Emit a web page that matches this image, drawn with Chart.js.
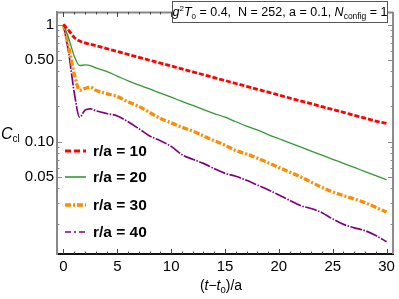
<!DOCTYPE html>
<html><head><meta charset="utf-8">
<script src="https://cdn.jsdelivr.net/npm/chart.js@4/dist/chart.umd.min.js"></script>
<style>html,body{margin:0;padding:0;background:#fff;}canvas{display:block;}</style>
</head><body>
<canvas id="c" width="399" height="299"></canvas>
<script>
const tValues = [0,0.5,1,1.5,2,2.5,3,4,5,6,7,8,9,10,11,12,13,14,15,16,17,18,19,20,21,22,23,24,25,26,27,28,29,30];
const c10 = [1,0.89,0.776,0.724,0.697,0.679,0.661,0.624,0.589,0.556,0.525,0.496,0.469,0.443,0.418,0.395,0.373,0.352,0.333,0.314,0.297,0.280,0.265,0.250,0.236,0.223,0.211,0.199,0.188,0.178,0.168,0.159,0.150,0.143];
const c20 = [1,0.759,0.537,0.447,0.452,0.447,0.427,0.398,0.363,0.331,0.305,0.282,0.260,0.240,0.221,0.204,0.188,0.174,0.162,0.148,0.136,0.126,0.115,0.106,0.0977,0.0902,0.0832,0.0767,0.0708,0.0653,0.0603,0.0556,0.0513,0.0473];
const c30 = [1,0.631,0.380,0.275,0.285,0.292,0.275,0.257,0.243,0.219,0.200,0.178,0.158,0.145,0.133,0.123,0.112,0.102,0.0933,0.0841,0.0785,0.0724,0.0661,0.0603,0.0550,0.0501,0.0452,0.0407,0.0372,0.0347,0.0324,0.0302,0.0275,0.0251];
const c40 = [1,0.562,0.263,0.162,0.186,0.191,0.184,0.174,0.166,0.148,0.129,0.112,0.102,0.0912,0.0776,0.0708,0.0653,0.0589,0.0537,0.0507,0.0468,0.0427,0.0389,0.0351,0.0316,0.0285,0.0269,0.0248,0.0219,0.0197,0.0184,0.0174,0.0158,0.0140];
const seriesLabels = ["r/a = 10","r/a = 20","r/a = 30","r/a = 40"];
const xTicks = [0,5,10,15,20,25,30];
const yTicks = [1,0.5,0.1,0.05];
const yTickLabels = ["1","0.50","0.10","0.05"];
const yMinorTicks = [0.02,0.03,0.04,0.06,0.07,0.08,0.09,0.2,0.3,0.4,0.6,0.7,0.8,0.9];

const styles = [
  {color:'#ff0000', width:2.8, dash:[5,2]},
  {color:'#339933', width:1.3, dash:[]},
  {color:'#ff8c00', width:3.3, dash:[6,2,2,2]},
  {color:'#800080', width:1.7, dash:[12,1.5,1.5,1.5]}
];
const legendDash = [[6,3],[],[6,2,2,2],[6,3,2,3]];
const seriesData = [c10,c20,c30,c40];

const datasets = seriesData.map((arr,i)=>({
  label: seriesLabels[i],
  data: arr.map((v,j)=>({x:tValues[j], y:v})),
  borderColor: styles[i].color,
  borderWidth: styles[i].width,
  borderDash: styles[i].dash,
  pointRadius: 0,
  fill: false,
  cubicInterpolationMode: 'monotone'
}));

function richText(ctx, segs, x, y, align){
  let total = 0;
  segs.forEach(s=>{ctx.font=s.font; total += ctx.measureText(s.t).width;});
  let cx = align==='center' ? x-total/2 : x;
  segs.forEach(s=>{ctx.font=s.font; ctx.fillText(s.t, cx, y+(s.dy||0)); cx += ctx.measureText(s.t).width;});
}

const overlay = {
  id:'overlay',
  afterDraw(chart){
    const ctx = chart.ctx, a = chart.chartArea;
    const xs = chart.scales.x, ys = chart.scales.y;
    ctx.save();
    ctx.strokeStyle = '#888'; ctx.lineWidth = 2;
    ctx.beginPath(); ctx.moveTo(a.right, a.bottom); ctx.lineTo(a.right, a.top); ctx.stroke();
    ctx.beginPath(); ctx.moveTo(a.left, a.top+0.5); ctx.lineTo(a.right, a.top+0.5); ctx.stroke();
    ctx.strokeStyle = '#444'; ctx.lineWidth = 1;
    for (let t=0; t<=30; t++){
      const px = Math.round(xs.getPixelForValue(t))+0.5;
      const len = (t%5===0)?5:2.5;
      ctx.beginPath(); ctx.moveTo(px, a.bottom); ctx.lineTo(px, a.bottom-len); ctx.stroke();
      ctx.beginPath(); ctx.moveTo(px, a.top); ctx.lineTo(px, a.top+len); ctx.stroke();
    }
    ctx.strokeStyle = '#888';
    yTicks.concat(yMinorTicks).forEach(v=>{
      const py = Math.round(ys.getPixelForValue(v))+0.5;
      const len = yTicks.includes(v)?5:2.5;
      ctx.beginPath(); ctx.moveTo(a.left, py); ctx.lineTo(a.left+len, py); ctx.stroke();
      ctx.beginPath(); ctx.moveTo(a.right, py); ctx.lineTo(a.right-len, py); ctx.stroke();
    });
    ctx.fillStyle = '#fff'; ctx.fillRect(172,1,215,21);
    ctx.strokeStyle = '#555'; ctx.lineWidth = 1;
    ctx.strokeRect(172.5,1.5,215,21);
    ctx.fillStyle = '#000'; ctx.textBaseline = 'alphabetic';
    const f = 'px "Liberation Sans", Arial, sans-serif';
    richText(ctx, [
      {t:'g', font:'italic 12.5'+f},{t:'2', font:'8'+f, dy:-5},
      {t:'T', font:'italic 12.5'+f},{t:'0', font:'8'+f, dy:3},
      {t:' = 0.4,  N = 252, a = 0.1, ', font:'12.5'+f},
      {t:'N', font:'italic 12.5'+f},{t:'config', font:'8.5'+f, dy:3},
      {t:' = 1', font:'12.5'+f}
    ], 280, 16, 'center');
    richText(ctx, [{t:'C', font:'italic 16'+f},{t:'cl', font:'10'+f, dy:3}], 1, 139, 'left');
    richText(ctx, [{t:'(', font:'14'+f},{t:'t', font:'italic 14'+f},{t:'\u2212', font:'14'+f},
      {t:'t', font:'italic 14'+f},{t:'0', font:'9.5'+f, dy:3},{t:')/a', font:'14'+f}], 221, 290, 'center');
    const ly = [151,177,205,232];
    seriesLabels.forEach((lab,i)=>{
      ctx.strokeStyle = styles[i].color;
      ctx.lineWidth = Math.max(styles[i].width,1.6);
      ctx.setLineDash(legendDash[i]);
      ctx.beginPath(); ctx.moveTo(65, ly[i]); ctx.lineTo(86, ly[i]); ctx.stroke();
      ctx.setLineDash([]);
      ctx.fillStyle = '#000';
      ctx.font = 'bold 15.5'+f; ctx.textBaseline='middle';
      ctx.fillText(lab, 93, ly[i]+1);
    });
    ctx.restore();
  }
};

new Chart(document.getElementById('c'), {
  type:'line',
  data:{datasets},
  options:{
    responsive:false, animation:false,
    layout:{padding:{left:0,right:4,top:0,bottom:0}},
    plugins:{legend:{display:false}, tooltip:{enabled:false}},
    scales:{
      x:{type:'linear', min:-0.6, max:30.6,
        afterBuildTicks(s){ s.ticks = xTicks.map(v=>({value:v})); },
        afterFit(s){ s.height = 45; },
        grid:{display:false, drawTicks:false},
        border:{display:true, color:'#111', width:2},
        ticks:{color:'#000', font:{family:'"Liberation Sans", Arial, sans-serif', size:15}, padding:4, maxRotation:0}
      },
      y:{type:'logarithmic', min:0.011, max:1.28,
        afterBuildTicks(s){ s.ticks = yTicks.map(v=>({value:v})); },
        afterFit(s){ s.width = 57; },
        grid:{display:false, drawTicks:false},
        border:{display:true, color:'#888', width:2},
        ticks:{color:'#000', font:{family:'"Liberation Sans", Arial, sans-serif', size:15}, padding:3,
          callback:(v)=>{ const i = yTicks.indexOf(v); return i>=0 ? yTickLabels[i] : ''; }}
      }
    }
  },
  plugins:[overlay]
});
</script>
</body></html>
